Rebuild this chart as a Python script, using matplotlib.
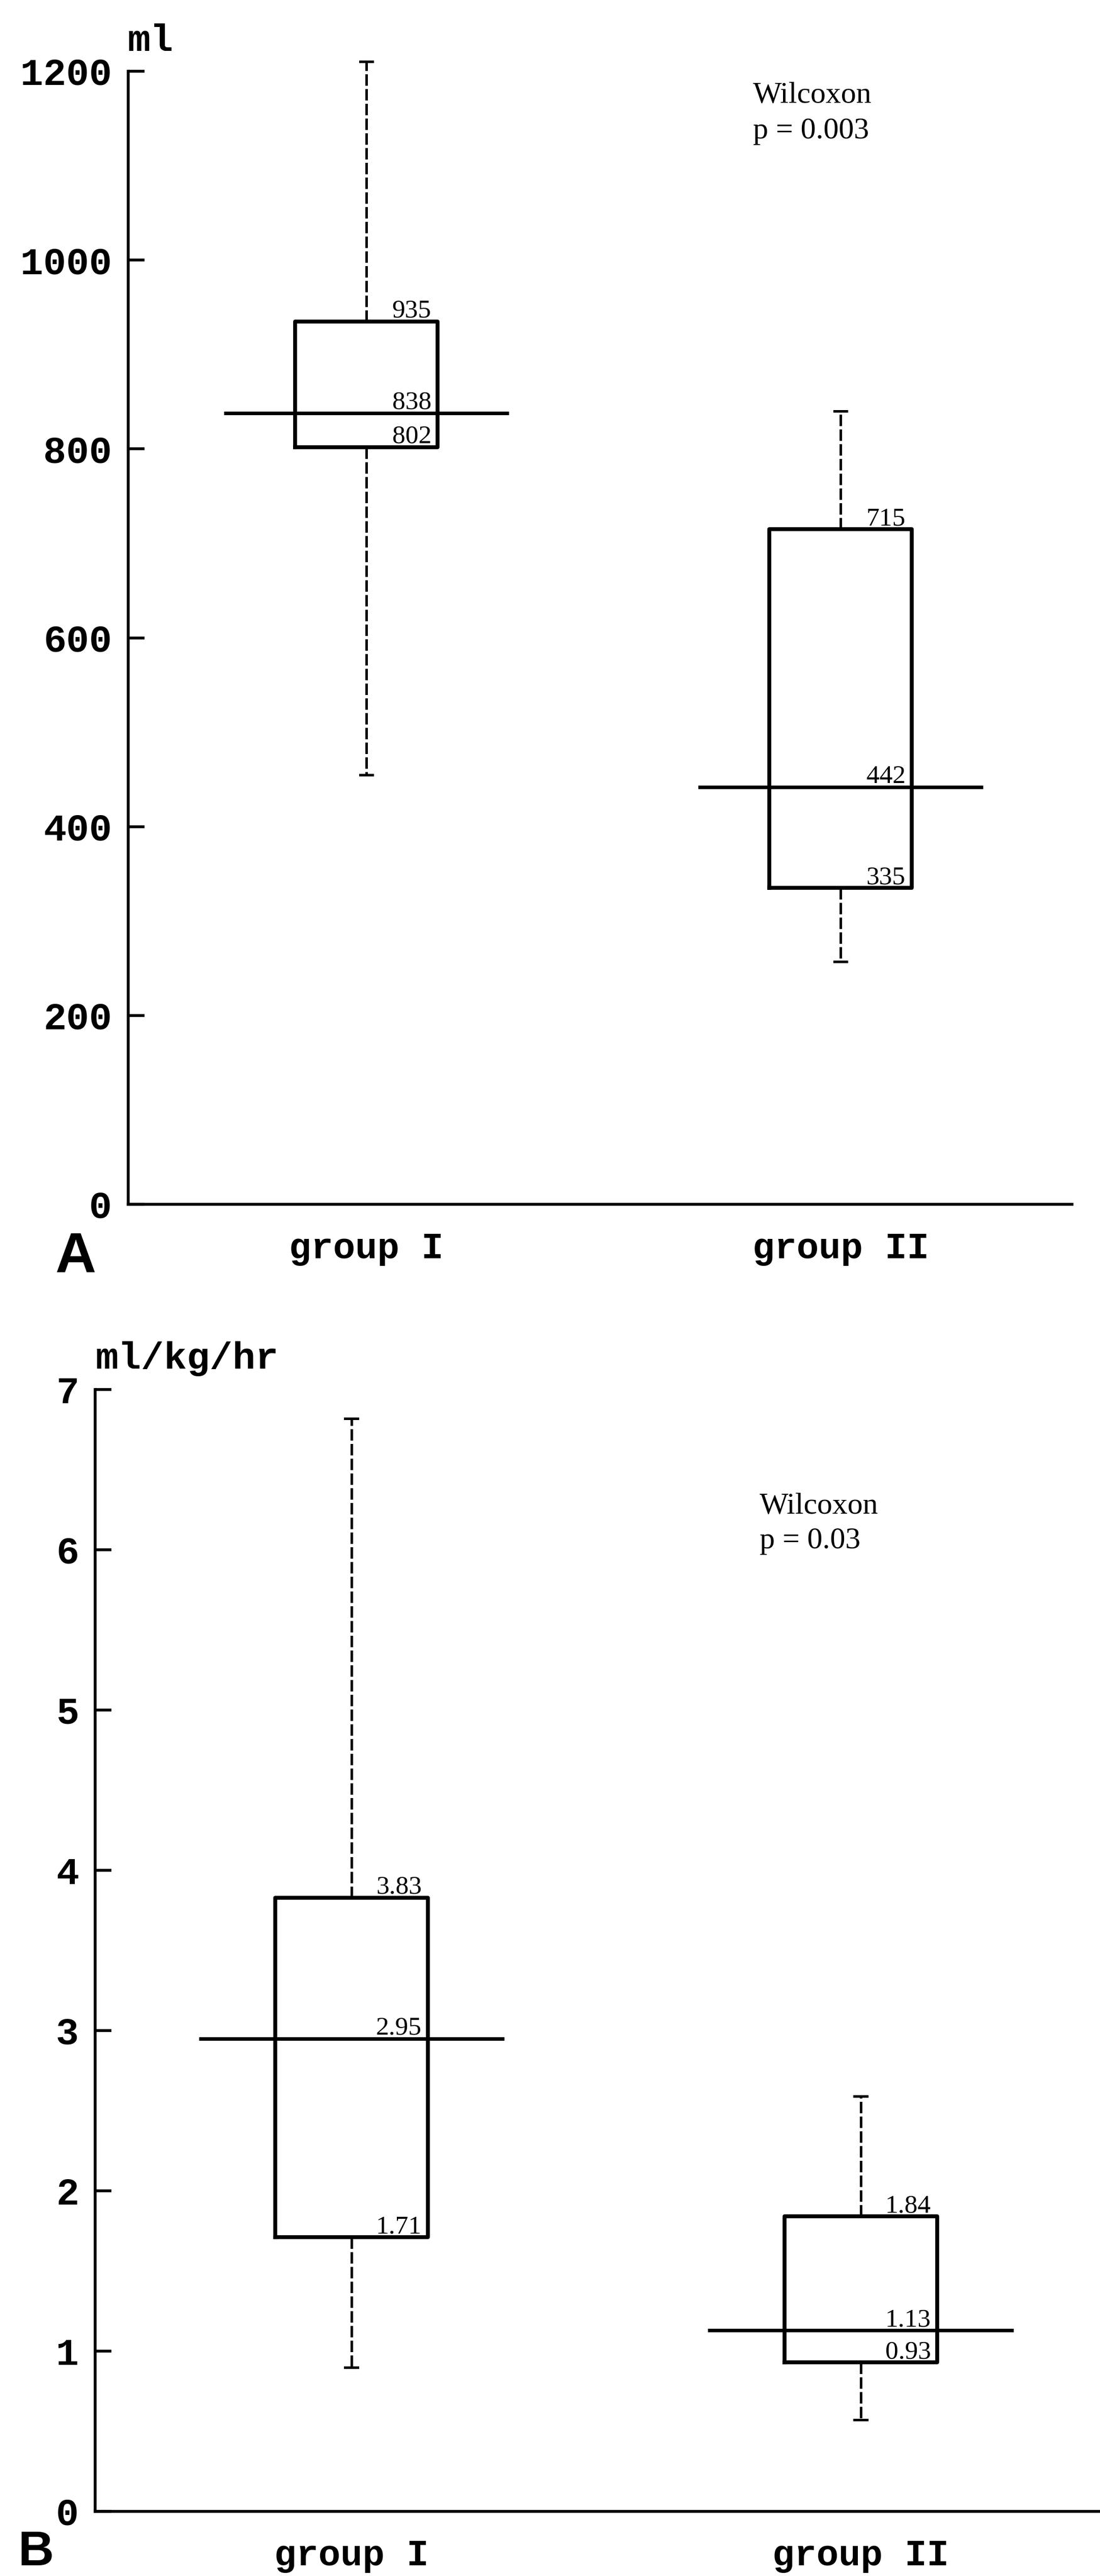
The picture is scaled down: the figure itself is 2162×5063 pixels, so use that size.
import matplotlib
matplotlib.use("Agg")
import matplotlib.pyplot as plt

W, H = 2162, 5063
DPI = 100

# ---------------- data ----------------
groups = ["group I", "group II"]
positions = [1, 2]

# Panel A: volume (ml)
a_q1 = [802, 335]
a_med = [838, 442]
a_q3 = [935, 715]
a_lo = [455, 257]
a_hi = [1210, 840]
a_yticks = [0, 200, 400, 600, 800, 1000, 1200]
a_unit = "ml"
a_test = ["Wilcoxon", "p = 0.003"]

# Panel B: rate (ml/kg/hr)
b_q1 = [1.71, 0.93]
b_med = [2.95, 1.13]
b_q3 = [3.83, 1.84]
b_lo = [0.90, 0.57]
b_hi = [6.82, 2.59]
b_yticks = [0, 1, 2, 3, 4, 5, 6, 7]
b_unit = "ml/kg/hr"
b_test = ["Wilcoxon", "p = 0.03"]

plt.rcParams['font.family'] = ['Liberation Mono', 'DejaVu Sans']
plt.rcParams['font.weight'] = 'bold'

fig = plt.figure(figsize=(W / DPI, H / DPI), dpi=DPI)
fig.patch.set_facecolor('white')


def px2fig(x, y):
    return x / W, 1 - y / H


def panel(rect, q1, med, q3, lo, hi, yticks, xlim, fmt):
    ax = fig.add_axes(rect)
    stats = [dict(q1=a, med=m, q3=b, whislo=l, whishi=h, fliers=[])
             for a, m, b, l, h in zip(q1, med, q3, lo, hi)]
    art = ax.bxp(stats, positions=positions, widths=0.3, capwidths=0.025,
                 showfliers=False, manage_ticks=False,
                 boxprops=dict(lw=5.5, color='black'),
                 whiskerprops=dict(lw=3.6, color='black', linestyle=(0, (4.5, 1.3))),
                 capprops=dict(lw=3.6, color='black'),
                 medianprops=dict(lw=0))
    for k in art:
        for a in art[k]:
            a.set_clip_on(False)
    ax.hlines(med, [p - 0.3 for p in positions], [p + 0.3 for p in positions],
              colors='black', lw=5, clip_on=False)
    for p, vals in zip(positions, zip(q1, med, q3)):
        for v in vals:
            ax.annotate(fmt(v), xy=(p + 0.15, v), xytext=(-12, 8),
                        textcoords='offset pixels', ha='right', va='baseline',
                        fontsize=37, family='Liberation Serif', weight='normal')
    ax.set_xlim(*xlim)
    ax.set_ylim(yticks[0], yticks[-1])
    ax.set_yticks(yticks)
    ax.set_yticklabels([str(t) for t in yticks])
    ax.set_xticks(positions)
    ax.set_xticklabels(groups)
    for s in ['top', 'right']:
        ax.spines[s].set_visible(False)
    for s in ['left', 'bottom']:
        ax.spines[s].set_linewidth(4)
    ax.tick_params(axis='y', direction='in', length=23, width=4, pad=23,
                   labelsize=54)
    ax.tick_params(axis='x', length=0, pad=38, labelsize=52)
    return ax


axA = panel([252 / W, 1 - 2367 / H, (2107 - 252) / W, (2367 - 140) / H],
            a_q1, a_med, a_q3, a_lo, a_hi, a_yticks, (0.498, 2.488),
            lambda v: f"{v:d}")
axB = panel([187 / W, 1 - 4936 / H, (2162 - 187) / W, (4936 - 2731) / H],
            b_q1, b_med, b_q3, b_lo, b_hi, b_yticks, (0.4965, 2.47),
            lambda v: f"{v:.2f}")

# unit labels
fig.text(*px2fig(250, 100), a_unit, fontsize=54, weight='bold', va='baseline')
fig.text(*px2fig(187, 2690), b_unit, fontsize=54, weight='bold', va='baseline')

# panel letters
fig.text(*px2fig(108, 2500), "A", fontsize=80, weight='bold',
         family='Liberation Sans', va='baseline')
fig.text(*px2fig(35, 5042), "B", fontsize=70, weight='bold',
         family='Liberation Sans', va='baseline')

# test annotations
fig.text(*px2fig(1480, 202), a_test[0], fontsize=43, family='Liberation Serif',
         weight='normal', va='baseline')
fig.text(*px2fig(1480, 272), a_test[1], fontsize=43, family='Liberation Serif',
         weight='normal', va='baseline')
fig.text(*px2fig(1493, 2975), b_test[0], fontsize=43, family='Liberation Serif',
         weight='normal', va='baseline')
fig.text(*px2fig(1493, 3043), b_test[1], fontsize=43, family='Liberation Serif',
         weight='normal', va='baseline')

fig.savefig("out.png", dpi=DPI, facecolor='white')
